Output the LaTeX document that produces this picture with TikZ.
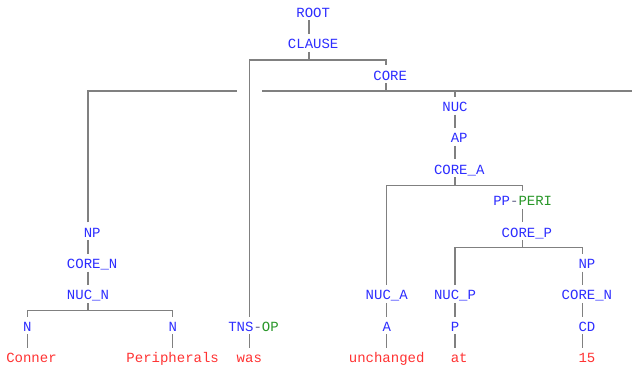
\documentclass[tikz,border=0pt]{standalone}
\usepackage{fontspec}
\setmainfont{Liberation Mono}
\definecolor{lab}{RGB}{45,45,255}
\definecolor{wrd}{RGB}{255,50,50}
\definecolor{grn}{RGB}{40,150,40}
\definecolor{lnc}{RGB}{128,128,128}
\definecolor{hyc}{RGB}{100,100,140}
\newcommand{\ev}{\hphantom{0}}
\begin{document}
\begin{tikzpicture}[x=1pt,y=-1pt,
  lbl/.style={anchor=base, inner sep=0pt, text height=14.6pt, text depth=2.9pt,
              font=\fontsize{14}{14}\selectfont, text=lab},
  wd/.style={lbl, text=wrd},
  ln/.style={draw=lnc, line width=1.2pt}]
\useasboundingbox (0,0) rectangle (632,366);
% row 0-4
\node[lbl] (root)  at (309,17.3)  {\ev ROOT};
\node[lbl] (clause) at (309,48.7) {\ev CLAUSE};
\node[lbl] (core)  at (386,80.1)  {\ev CORE};
\node[lbl] (nuc)   at (455,111.5) {NUC};
\node[lbl] (ap)    at (455,142.9) {\ev AP};
\node[lbl] (corea) at (455,174.3) {\ev CORE\_A};
\node[lbl] (pp)    at (522.7,205.7) {PP\textcolor{hyc}{-}\textcolor{grn}{PERI}};
\node[lbl] (corep) at (522.7,237.1) {\ev CORE\_P};
\node[lbl] (np1)   at (88,237.1)  {\ev NP};
\node[lbl] (corenl) at (88,268.5) {\ev CORE\_N};
\node[lbl] (npr)   at (582.7,268.5) {\ev NP};
\node[lbl] (nucn)  at (88,299.9)  {NUC\_N};
\node[lbl] (nuca)  at (386.7,299.9) {NUC\_A};
\node[lbl] (nucp)  at (455,299.9) {NUC\_P};
\node[lbl] (corenr) at (582.7,299.9) {\ev CORE\_N};
\node[lbl] (n1)    at (27.3,331.3) {N};
\node[lbl] (n2)    at (172.7,331.3) {N};
\node[lbl] (tns)   at (249.3,331.3) {\ev TNS\textcolor{hyc}{-}\textcolor{grn}{OP}};
\node[lbl] (a)     at (386.7,331.3) {A};
\node[lbl] (p)     at (455,331.3) {P};
\node[lbl] (cd)    at (582.7,331.3) {\ev CD};
\node[wd] (w1) at (27.3,362.7) {\ev Conner};
\node[wd] (w2) at (172.7,362.7) {Peripherals};
\node[wd] (w3) at (249.3,362.7) {was};
\node[wd] (w4) at (386.7,362.7) {unchanged};
\node[wd] (w5) at (455,362.7) {\ev at};
\node[wd] (w6) at (582.7,362.7) {\ev 15};
% bar levels
\coordinate (yA) at (0,60);
\coordinate (yB) at (0,91);
\coordinate (yC) at (0,185.7);
\coordinate (yD) at (0,247.7);
\coordinate (yE) at (0,310.7);
\coordinate (gapL) at (236.7,91);
\coordinate (gapR) at (262,91);
\coordinate (barR) at (632,91);
% connectors
\draw[ln] (root.south) -- (clause.north);
\draw[ln] (clause.south) -- (clause.south |- yA);
\draw[ln] (tns.north) -- (tns.north |- yA) -- (core.north |- yA) -- (core.north);
\draw[ln] (core.south) -- (core.south |- yB);
\draw[ln] (np1.north) -- (np1.north |- yB) -- (gapL);
\draw[ln] (gapR) -- (barR);
\draw[ln] (nuc.north) -- (nuc.north |- yB);
\draw[ln] (nuc.south) -- (ap.north);
\draw[ln] (ap.south) -- (corea.north);
\draw[ln] (corea.south) -- (corea.south |- yC);
\draw[ln] (nuca.north) -- (nuca.north |- yC) -- (pp.north |- yC) -- (pp.north);
\draw[ln] (pp.south) -- (corep.north);
\draw[ln] (corep.south) -- (corep.south |- yD);
\draw[ln] (nucp.north) -- (nucp.north |- yD) -- (npr.north |- yD) -- (npr.north);
\draw[ln] (npr.south) -- (corenr.north);
\draw[ln] (corenr.south) -- (cd.north);
\draw[ln] (cd.south) -- (w6.north);
\draw[ln] (nucp.south) -- (p.north);
\draw[ln] (p.south) -- (w5.north);
\draw[ln] (nuca.south) -- (a.north);
\draw[ln] (a.south) -- (w4.north);
\draw[ln] (np1.south) -- (corenl.north);
\draw[ln] (corenl.south) -- (nucn.north);
\draw[ln] (nucn.south) -- (nucn.south |- yE);
\draw[ln] (n1.north) -- (n1.north |- yE) -- (n2.north |- yE) -- (n2.north);
\draw[ln] (n1.south) -- (w1.north);
\draw[ln] (n2.south) -- (w2.north);
\draw[ln] (tns.south) -- (w3.north);
\end{tikzpicture}
\end{document}
